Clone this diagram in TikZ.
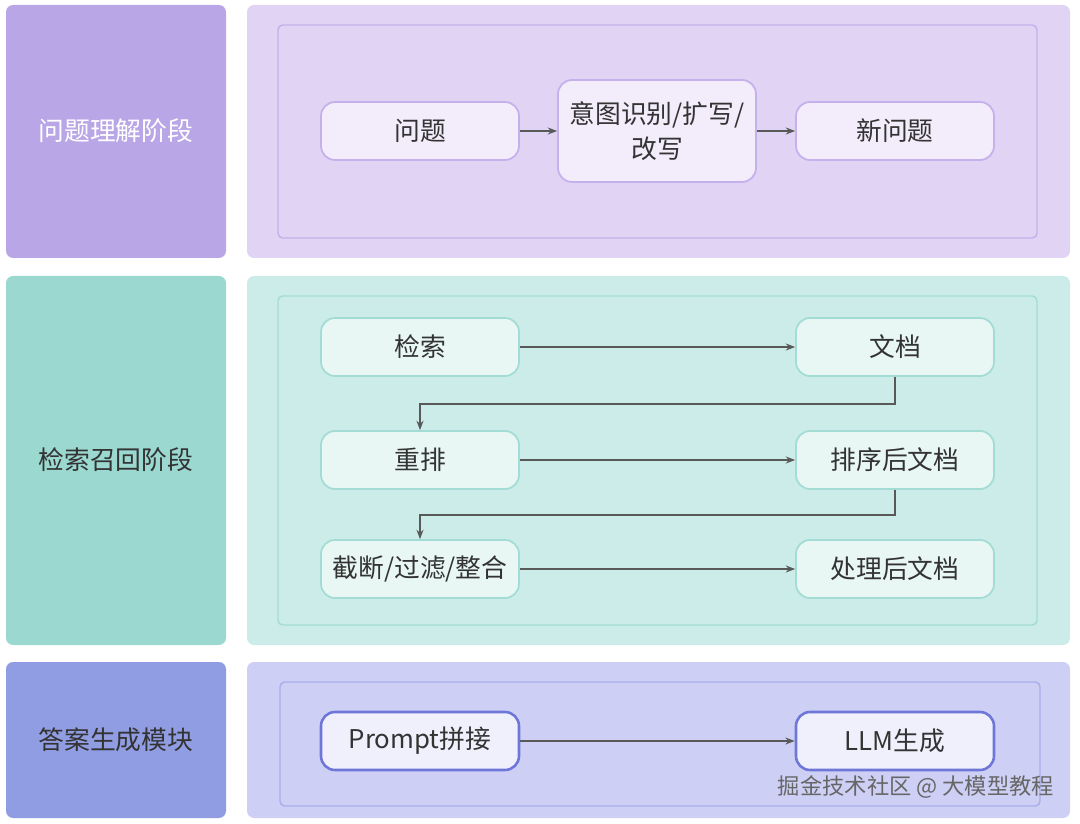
\documentclass[tikz,border=0pt]{standalone}
\usepackage{fontspec}
\setmainfont{Noto Sans CJK SC}
\usetikzlibrary{positioning,arrows.meta}
\definecolor{bandA}{HTML}{B9A6E6}
\definecolor{panelA}{HTML}{E0D3F4}
\definecolor{lineA}{HTML}{C4B0EA}
\definecolor{fillA}{HTML}{F2ECFB}
\definecolor{bandB}{HTML}{9AD8D0}
\definecolor{panelB}{HTML}{CBECE8}
\definecolor{lineB}{HTML}{A3DCD4}
\definecolor{fillB}{HTML}{E8F7F4}
\definecolor{bandC}{HTML}{919DE2}
\definecolor{panelC}{HTML}{CDD0F4}
\definecolor{lineC}{HTML}{A9AEEB}
\definecolor{fillC}{HTML}{EFF0FC}
\definecolor{edgeC}{HTML}{6E76D8}
\begin{document}
\begin{tikzpicture}
  [x=0.03cm, y=-0.03cm,
   band/.style={rounded corners=6pt, draw=none},
   frame/.style={rounded corners=4pt, line width=1.2pt},
   box/.style={rounded corners=12pt, line width=1.5pt, minimum width=5.94cm,
     minimum height=1.74cm, font=\fontsize{22}{30}\selectfont, text=black!80, align=center},
   flow/.style={-{Stealth[length=8pt]}, draw=black!65, line width=1pt}]
  \useasboundingbox (0,0) rectangle (1080,824);
  % stage bands
  \fill[band, bandA] (6,5) rectangle (226,258);
  \fill[band, bandB] (6,276) rectangle (226,645);
  \fill[band, bandC] (6,662) rectangle (226,818);
  \node[text=white, font=\fontsize{22}{26}\selectfont] (tA) at (116,131) {问题理解阶段};
  \node[text=black!80, font=\fontsize{22}{26}\selectfont] (tB) at (116,460) {检索召回阶段};
  \node[text=black!80, font=\fontsize{22}{26}\selectfont] (tC) at (116,740) {答案生成模块};
  % panels
  \fill[band, panelA] (247,5) rectangle (1070,258);
  \draw[frame, lineA] (278,25) rectangle (1037,238);
  \fill[band, panelB] (247,276) rectangle (1070,645);
  \draw[frame, lineB] (278,296) rectangle (1037,625);
  \fill[band, panelC] (247,662) rectangle (1070,818);
  \draw[frame, lineC] (280,682) rectangle (1040,806);
  % stage 1
  \node[box, fill=fillA, draw=lineA] (q) at (420,131) {问题};
  \node[box, fill=fillA, draw=lineA, minimum height=3.06cm] (intent) at (657,131) {意图识别/扩写/\\改写};
  \node[box, fill=fillA, draw=lineA] (newq) at (895,131) {新问题};
  \draw[flow] (q) -- (intent);
  \draw[flow] (intent) -- (newq);
  % stage 2
  \node[box, fill=fillB, draw=lineB] (search) at (420,347) {检索};
  \node[box, fill=fillB, draw=lineB] (docs) at (895,347) {文档};
  \node[box, fill=fillB, draw=lineB] (rerank) at (420,460) {重排};
  \node[box, fill=fillB, draw=lineB] (sorted) at (895,460) {排序后文档};
  \node[box, fill=fillB, draw=lineB] (cut) at (420,569) {截断/过滤/整合};
  \node[box, fill=fillB, draw=lineB] (done) at (895,569) {处理后文档};
  \draw[flow] (search) -- (docs);
  \draw[flow] (docs.south) |- (658,404) -| (rerank.north);
  \draw[flow] (rerank) -- (sorted);
  \draw[flow] (sorted.south) |- (658,515) -| (cut.north);
  \draw[flow] (cut) -- (done);
  % stage 3
  \node[box, fill=fillC, draw=edgeC, line width=2.2pt] (prompt) at (420,741) {Prompt拼接};
  \node[box, fill=fillC, draw=edgeC, line width=2.2pt] (llm) at (895,741) {LLM生成};
  \draw[flow] (prompt) -- (llm);
  \node[text=black!60, font=\fontsize{19}{24}\selectfont, anchor=east] (mark) at (1058,787) {掘金技术社区 @ 大模型教程};
\end{tikzpicture}
\end{document}
